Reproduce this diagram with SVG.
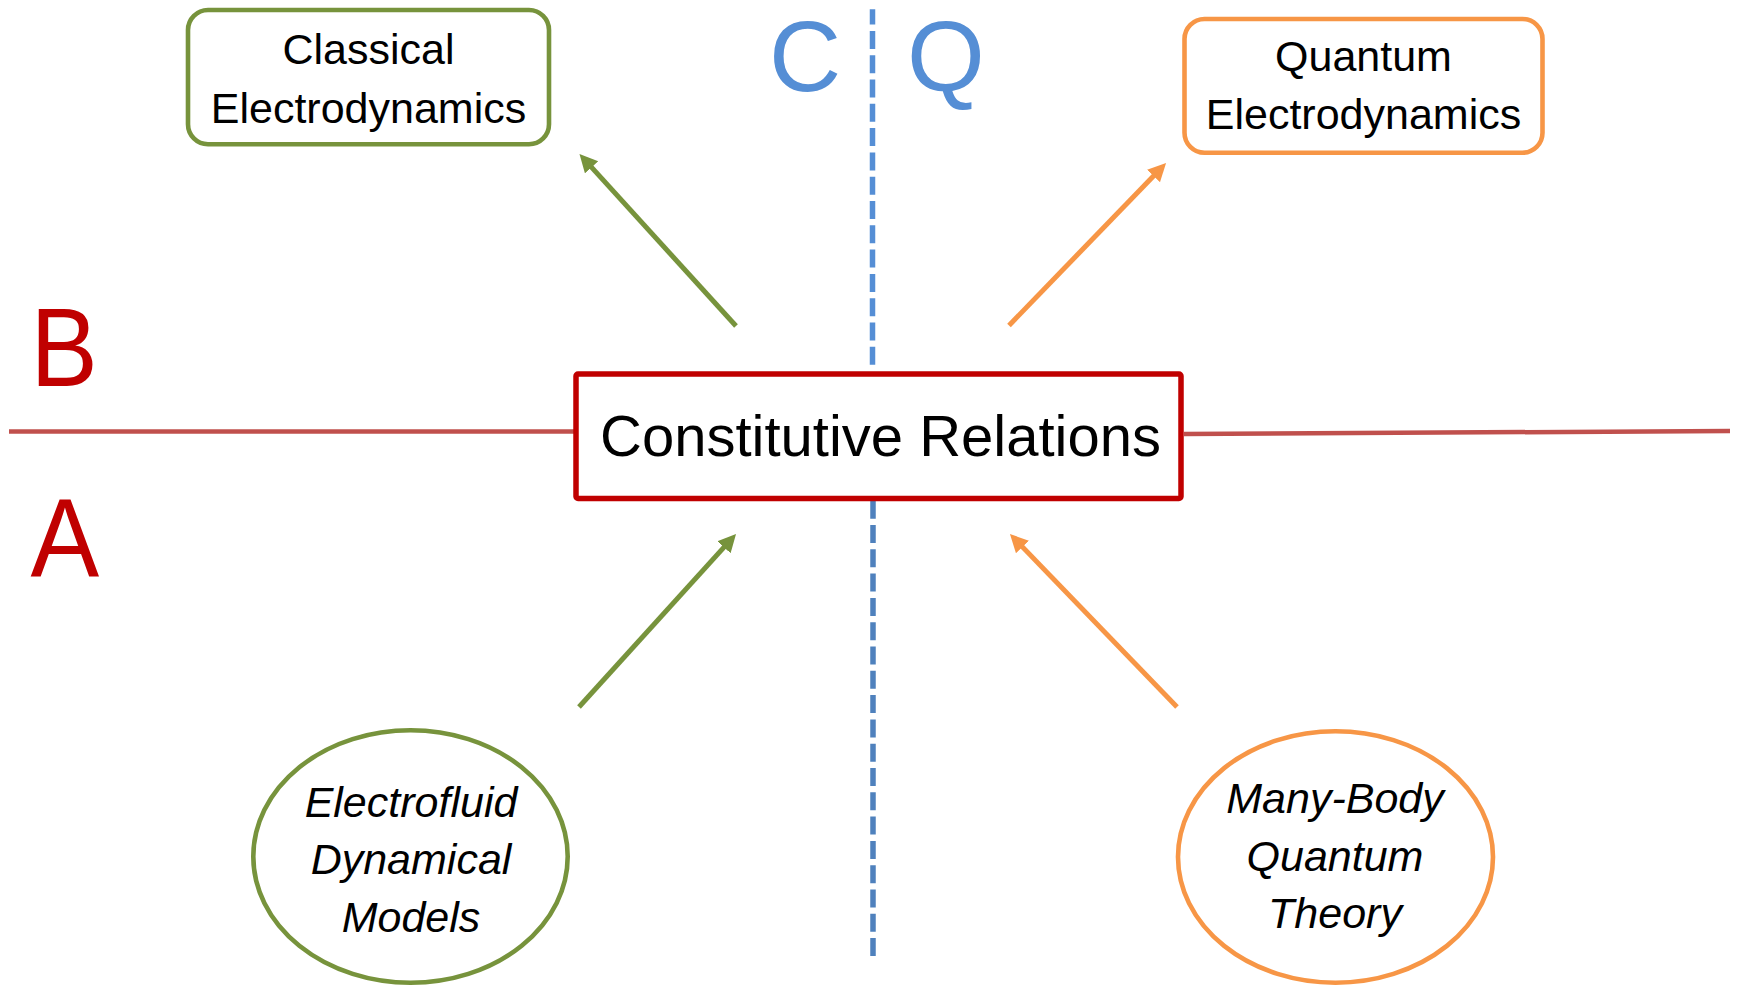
<svg xmlns="http://www.w3.org/2000/svg" width="1737" height="987" viewBox="0 0 1737 987">
  <style>
    .txt { font-family: "Liberation Sans", Arial, sans-serif; fill: #000000; }
    .box-green { fill: #FFFFFF; stroke: #77933C; stroke-width: 4.6; }
    .box-orange { fill: #FFFFFF; stroke: #F79646; stroke-width: 4.6; }
    .arrow-green { stroke: #77933C; stroke-width: 5; fill: none; }
    .arrow-orange { stroke: #F79646; stroke-width: 5; fill: none; }
    .axis-red { stroke: #C0504D; stroke-width: 4.5; fill: none; }
    .big-red { font-family: "Liberation Sans", Arial, sans-serif; fill: #C00000; font-size: 112px; }
    .big-blue { font-family: "Liberation Sans", Arial, sans-serif; fill: #558ED5; font-size: 100px; }
  </style>
  <defs>
    <marker id="headGreen" markerUnits="userSpaceOnUse" markerWidth="19" markerHeight="19" refX="8" refY="9" orient="auto">
      <path d="M0,0 L18,9 L0,18 Z" fill="#77933C"/>
    </marker>
    <marker id="headOrange" markerUnits="userSpaceOnUse" markerWidth="19" markerHeight="19" refX="8" refY="9" orient="auto">
      <path d="M0,0 L18,9 L0,18 Z" fill="#F79646"/>
    </marker>
  </defs>
  <rect x="0" y="0" width="1737" height="987" fill="#FFFFFF"/>

  <g id="axes">
    <line class="axis-red" x1="9" y1="431.5" x2="574" y2="431.5"/>
    <line class="axis-red" x1="1184" y1="434" x2="1730" y2="431"/>
    <line x1="872.5" y1="9.3" x2="872.5" y2="366" stroke="#558ED5" stroke-width="5.5" stroke-dasharray="18 6.3" stroke-dashoffset="2.7"/>
    <line x1="873" y1="500.7" x2="873" y2="957" stroke="#4F81BD" stroke-width="5.5" stroke-dasharray="18 6.3"/>
  </g>

  <g id="region-labels">
    <text class="big-red" transform="translate(30.6,386) scale(0.9,1)" x="0" y="0">B</text>
    <text class="big-red" transform="translate(30.6,576) scale(0.92,1)" x="0" y="0">A</text>
    <text class="big-blue" x="805" y="91" text-anchor="middle">C</text>
    <text class="big-blue" x="946" y="91" text-anchor="middle">Q</text>
  </g>

  <g id="connectors">
    <line class="arrow-green" x1="736" y1="326" x2="586.2" y2="161.4" marker-end="url(#headGreen)"/>
    <line class="arrow-orange" x1="1009" y1="325.5" x2="1159.1" y2="170.2" marker-end="url(#headOrange)"/>
    <line class="arrow-green" x1="579" y1="707" x2="729.3" y2="541.4" marker-end="url(#headGreen)"/>
    <line class="arrow-orange" x1="1177" y1="707" x2="1016.9" y2="541.2" marker-end="url(#headOrange)"/>
  </g>

  <g id="node-constitutive">
    <rect x="576" y="374" width="605" height="124.5" rx="2" fill="#FFFFFF" stroke="#C00000" stroke-width="5.5"/>
    <text class="txt" x="880.5" y="456" font-size="58" text-anchor="middle">Constitutive Relations</text>
  </g>

  <g id="node-classical">
    <rect class="box-green" x="188" y="10" width="361" height="134.3" rx="20"/>
    <text class="txt" x="368.5" y="64" font-size="43" text-anchor="middle">Classical</text>
    <text class="txt" x="368.5" y="122.5" font-size="43" text-anchor="middle">Electrodynamics</text>
  </g>

  <g id="node-quantum">
    <rect class="box-orange" x="1184.5" y="19" width="358" height="133.7" rx="20"/>
    <text class="txt" x="1363.5" y="71" font-size="43" text-anchor="middle">Quantum</text>
    <text class="txt" x="1363.5" y="128.5" font-size="43" text-anchor="middle">Electrodynamics</text>
  </g>

  <g id="node-electrofluid">
    <ellipse class="box-green" cx="410.5" cy="856.5" rx="157.2" ry="126.2"/>
    <text class="txt" x="411" y="817" font-size="43" font-style="italic" text-anchor="middle">Electrofluid</text>
    <text class="txt" x="411" y="874" font-size="43" font-style="italic" text-anchor="middle">Dynamical</text>
    <text class="txt" x="411" y="932" font-size="43" font-style="italic" text-anchor="middle">Models</text>
  </g>

  <g id="node-manybody">
    <ellipse class="box-orange" cx="1335.5" cy="857" rx="157.5" ry="125.7"/>
    <text class="txt" x="1335" y="813" font-size="43" font-style="italic" text-anchor="middle">Many-Body</text>
    <text class="txt" x="1335" y="871" font-size="43" font-style="italic" text-anchor="middle">Quantum</text>
    <text class="txt" x="1335" y="928" font-size="43" font-style="italic" text-anchor="middle">Theory</text>
  </g>
</svg>
